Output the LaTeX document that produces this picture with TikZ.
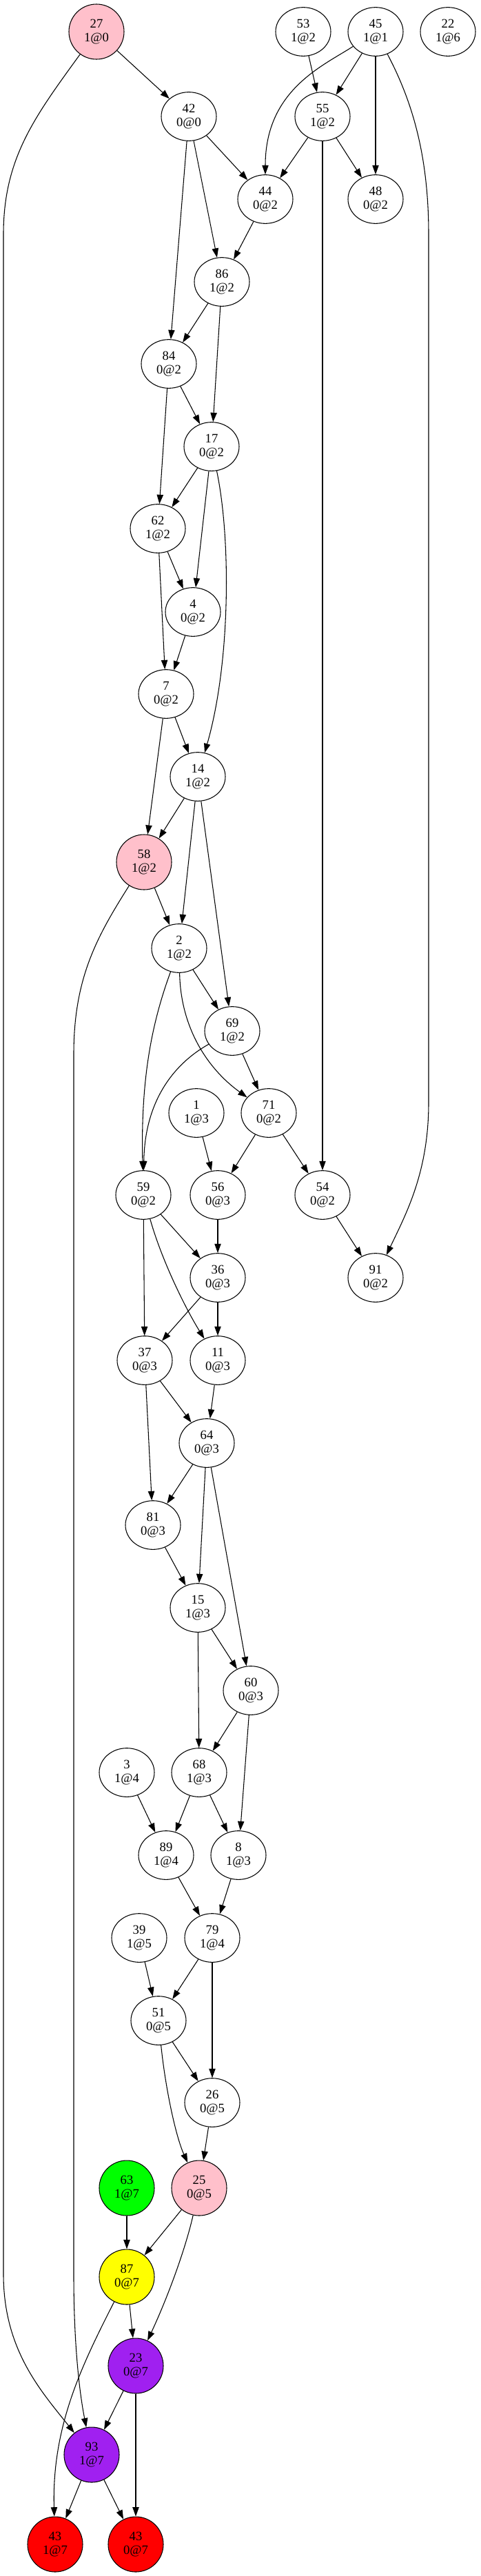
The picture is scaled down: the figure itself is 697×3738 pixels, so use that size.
\documentclass[tikz,border=0pt]{standalone}
\usepackage{fontspec}
\setmainfont{Liberation Serif}
\usetikzlibrary{arrows.meta,shapes.geometric}
\definecolor{gvpink}{RGB}{255,192,203}
\definecolor{gvgreen}{RGB}{0,255,0}
\definecolor{gvyellow}{RGB}{255,255,0}
\definecolor{gvpurple}{RGB}{160,32,240}
\definecolor{gvred}{RGB}{255,0,0}
\tikzset{
  gnode/.style={ellipse, draw=black, line width=0.8pt, inner sep=0pt,
    minimum width=60pt, minimum height=53pt, align=center,
    font=\fontsize{14}{15}\selectfont},
  fnode/.style={gnode, minimum height=60pt, fill=#1},
  arr/.style={-{Triangle[length=10pt,width=7pt]}, line width=0.8pt},
}
\begin{document}
\begin{tikzpicture}[x=0.75pt,y=-0.75pt]
\useasboundingbox (0,0) rectangle (697,3738);
% nodes
\node[fnode=gvpink] (n27) at (140,46) {27\\1@0};
\node[gnode] (n53) at (440,46) {53\\1@2};
\node[gnode] (n45) at (545,46) {45\\1@1};
\node[gnode] (n22) at (650,46) {22\\1@6};
\node[gnode] (n42) at (274,169) {42\\0@0};
\node[gnode] (n55) at (468,169) {55\\1@2};
\node[gnode] (n44) at (385,289) {44\\0@2};
\node[gnode] (n48) at (545,289) {48\\0@2};
\node[gnode] (n86) at (322,409) {86\\1@2};
\node[gnode] (n84) at (245,528) {84\\0@2};
\node[gnode] (n17) at (307,648) {17\\0@2};
\node[gnode] (n62) at (229,767) {62\\1@2};
\node[gnode] (n4) at (280,888) {4\\0@2};
\node[gnode] (n7) at (241,1007) {7\\0@2};
\node[gnode] (n14) at (287,1127) {14\\1@2};
\node[fnode=gvpink] (n58) at (209,1251) {58\\1@2};
\node[gnode] (n2) at (260,1376) {2\\1@2};
\node[gnode] (n69) at (337,1496) {69\\1@2};
\node[gnode] (n1) at (285,1615) {1\\1@3};
\node[gnode] (n71) at (390,1615) {71\\0@2};
\node[gnode] (n59) at (208,1734) {59\\0@2};
\node[gnode] (n56) at (316,1734) {56\\0@3};
\node[gnode] (n54) at (468,1734) {54\\0@2};
\node[gnode] (n36) at (316,1854) {36\\0@3};
\node[gnode] (n91) at (545,1854) {91\\0@2};
\node[gnode] (n37) at (210,1974) {37\\0@3};
\node[gnode] (n11) at (316,1974) {11\\0@3};
\node[gnode] (n64) at (300,2094) {64\\0@3};
\node[gnode] (n81) at (222,2213) {81\\0@3};
\node[gnode] (n15) at (287,2333) {15\\1@3};
\node[gnode] (n60) at (364,2453) {60\\0@3};
\node[gnode] (n3) at (184,2572) {3\\1@4};
\node[gnode] (n68) at (289,2572) {68\\1@3};
\node[gnode] (n89) at (241,2692) {89\\1@4};
\node[gnode] (n8) at (346,2692) {8\\1@3};
\node[gnode] (n39) at (202,2812) {39\\1@5};
\node[gnode] (n79) at (308,2812) {79\\1@4};
\node[gnode] (n51) at (230,2932) {51\\0@5};
\node[gnode] (n26) at (308,3051) {26\\0@5};
\node[fnode=gvgreen] (n63) at (184,3175) {63\\1@7};
\node[fnode=gvpink] (n25) at (289,3175) {25\\0@5};
\node[fnode=gvyellow] (n87) at (184,3304) {87\\0@7};
\node[fnode=gvpurple] (n23) at (197,3433) {23\\0@7};
\node[fnode=gvpurple] (n93) at (133,3562) {93\\1@7};
\node[fnode=gvred] (n43a) at (80,3692) {43\\1@7};
\node[fnode=gvred] (n43b) at (197,3692) {43\\0@7};
% edges
\draw[arr] (n27) -- (n42);
\draw[arr] (n27) .. controls (50,170) and (5,230) .. (5,340) -- (5,3300) .. controls (5,3410) and (60,3470) .. (n93);
\draw[arr] (n53) -- (n55);
\draw[arr] (n45) .. controls (470,95) and (385,130) .. (n44);
\draw[arr] (n45) -- (n55);
\draw[arr] (n45) -- (n48);
\draw[arr] (n45) .. controls (600,150) and (622,230) .. (622,340) -- (622,1600) .. controls (622,1700) and (590,1760) .. (n91);
\draw[arr] (n42) -- (n44);
\draw[arr] (n42) -- (n86);
\draw[arr] (n42) -- (n84);
\draw[arr] (n55) -- (n44);
\draw[arr] (n55) -- (n48);
\draw[arr] (n55) -- (n54);
\draw[arr] (n44) -- (n86);
\draw[arr] (n86) -- (n84);
\draw[arr] (n86) -- (n17);
\draw[arr] (n84) -- (n17);
\draw[arr] (n84) -- (n62);
\draw[arr] (n17) -- (n62);
\draw[arr] (n17) -- (n4);
\draw[arr] (n17) .. controls (335,780) and (335,960) .. (n14);
\draw[arr] (n62) -- (n4);
\draw[arr] (n62) -- (n7);
\draw[arr] (n4) -- (n7);
\draw[arr] (n7) -- (n14);
\draw[arr] (n7) -- (n58);
\draw[arr] (n14) -- (n58);
\draw[arr] (n14) -- (n2);
\draw[arr] (n14) -- (n69);
\draw[arr] (n58) -- (n2);
\draw[arr] (n58) .. controls (140,1360) and (107,1420) .. (107,1530) -- (107,3300) .. controls (107,3400) and (115,3470) .. (n93);
\draw[arr] (n2) -- (n69);
\draw[arr] (n2) .. controls (262,1490) and (300,1550) .. (n71);
\draw[arr] (n2) .. controls (222,1480) and (204,1560) .. (n59);
\draw[arr] (n69) -- (n71);
\draw[arr] (n69) .. controls (250,1545) and (210,1600) .. (n59);
\draw[arr] (n1) -- (n56);
\draw[arr] (n71) -- (n56);
\draw[arr] (n71) -- (n54);
\draw[arr] (n59) -- (n36);
\draw[arr] (n59) -- (n37);
\draw[arr] (n59) .. controls (235,1830) and (270,1900) .. (n11);
\draw[arr] (n56) -- (n36);
\draw[arr] (n54) -- (n91);
\draw[arr] (n36) -- (n37);
\draw[arr] (n36) -- (n11);
\draw[arr] (n37) -- (n64);
\draw[arr] (n37) -- (n81);
\draw[arr] (n11) -- (n64);
\draw[arr] (n64) -- (n81);
\draw[arr] (n64) -- (n15);
\draw[arr] (n64) -- (n60);
\draw[arr] (n81) -- (n15);
\draw[arr] (n15) -- (n60);
\draw[arr] (n15) -- (n68);
\draw[arr] (n60) -- (n68);
\draw[arr] (n60) -- (n8);
\draw[arr] (n3) -- (n89);
\draw[arr] (n68) -- (n89);
\draw[arr] (n68) -- (n8);
\draw[arr] (n89) -- (n79);
\draw[arr] (n8) -- (n79);
\draw[arr] (n39) -- (n51);
\draw[arr] (n79) -- (n51);
\draw[arr] (n79) -- (n26);
\draw[arr] (n51) -- (n26);
\draw[arr] (n51) .. controls (240,3030) and (255,3100) .. (n25);
\draw[arr] (n26) -- (n25);
\draw[arr] (n25) -- (n87);
\draw[arr] (n25) .. controls (270,3260) and (245,3330) .. (n23);
\draw[arr] (n63) -- (n87);
\draw[arr] (n87) -- (n23);
\draw[arr] (n87) .. controls (120,3430) and (75,3520) .. (n43a);
\draw[arr] (n23) -- (n93);
\draw[arr] (n23) -- (n43b);
\draw[arr] (n93) -- (n43a);
\draw[arr] (n93) -- (n43b);
\end{tikzpicture}
\end{document}
